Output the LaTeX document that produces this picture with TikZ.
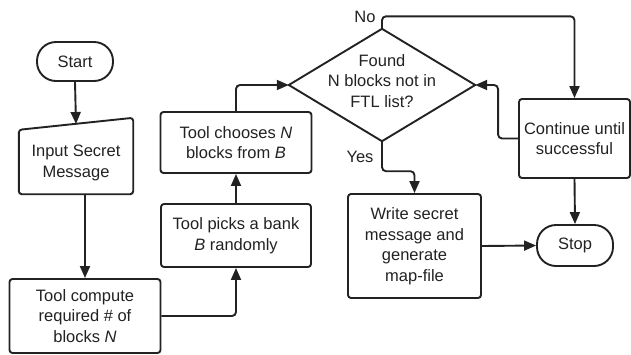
\documentclass[tikz,border=0pt]{standalone}
\usepackage{fontspec}
\setmainfont{Liberation Sans}
\usetikzlibrary{arrows.meta,calc}
\definecolor{ink}{HTML}{222222}
\begin{document}
\begin{tikzpicture}[x=1pt,y=-1pt,
  font=\fontsize{16.5}{20.5}\selectfont,
  every node/.style={text=ink},
  box/.style={draw=ink, line width=1.9pt, rounded corners=3pt, align=center, inner sep=0pt},
  term/.style={draw=ink, line width=1.9pt, rounded corners=19pt, align=center, inner sep=0pt},
  ghost/.style={inner sep=0pt, align=center},
  conn/.style={draw=ink, line width=1.9pt, rounded corners=4pt, -{Triangle[length=12pt,width=10pt]}},
  shp/.style={draw=ink, line width=1.9pt, rounded corners=3pt}]
\useasboundingbox (0,0) rectangle (631,354);

% nodes
\node[term, minimum width=76pt, minimum height=39pt] (start) at (75,61.5) {Start};
\node[ghost, minimum width=114pt, minimum height=76pt] (input) at (76,156) {};
\node[ghost] (inputtxt) at (76,163) {Input Secret\\Message};
\node[box, minimum width=151pt, minimum height=74pt] (compute) at (85,316) {Tool compute\\required \# of\\blocks \textit{N}};
\node[box, minimum width=150pt, minimum height=63pt] (picks) at (236,235.5) {Tool picks a bank\\\textit{B} randomly};
\node[box, minimum width=151pt, minimum height=61pt] (chooses) at (236,142.5) {Tool chooses \textit{N}\\blocks from \textit{B}};
\node[ghost, minimum width=186pt, minimum height=112pt] (dia) at (382,85) {};
\node[ghost] (diatxt) at (382,81) {Found\\N blocks not in\\FTL list?};
\node[box, minimum width=111pt, minimum height=79pt] (cont) at (574.5,138.5) {Continue until\\successful};
\node[box, minimum width=133pt, minimum height=104pt] (write) at (414.5,246) {Write secret\\message and\\generate\\map-file};
\node[term, minimum width=76pt, minimum height=41pt] (stop) at (575,245.5) {Stop};
\node (nolbl) at (365,17) {No};
\node (yeslbl) at (360,157) {Yes};

% shapes drawn from anchors
\draw[shp] (input.south west) -- ($(input.north west)+(0,12)$) -- (input.north east) -- (input.south east) -- cycle;
\draw[draw=ink, line width=1.9pt, line join=miter] (dia.west) -- (dia.north) -- (dia.east) -- (dia.south) -- cycle;
\coordinate (intop) at (76,124);

% connectors
\draw[conn] (start.south) -- (intop);
\draw[conn] (compute.north |- input.south) -- (compute.north);
\draw[conn] (compute.east) -| (picks.south);
\draw[conn] (picks.north) -- (picks.north |- chooses.south);
\draw[conn] (chooses.north) |- (dia.west);
\draw[conn] (dia.north) -- ++(0,-12.5) -| (cont.north);
\draw[conn] (cont.west) -- ++(-20,0) |- (dia.east);
\draw[conn] (dia.south) -- ++(0,30) -| (write.north);
\draw[conn] (write.east) -- (stop.west);
\draw[conn] (cont.south) -- (stop.north);
\end{tikzpicture}
\end{document}
